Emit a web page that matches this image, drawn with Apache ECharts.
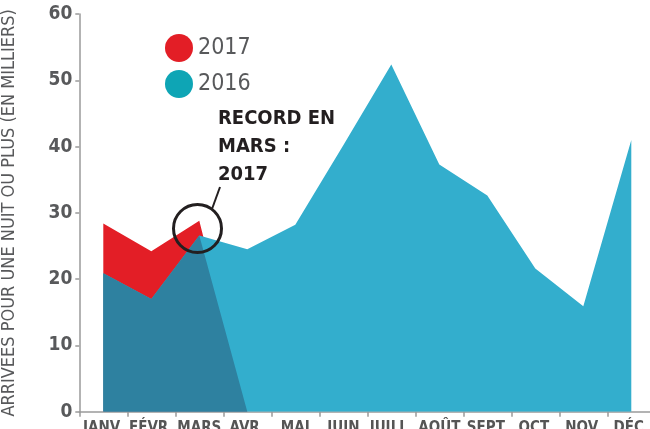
<!DOCTYPE html>
<html>
<head>
<meta charset="utf-8">
<script src="https://cdn.jsdelivr.net/npm/echarts@6/dist/echarts.min.js"></script>
<style>
  html, body { margin: 0; padding: 0; background: #fff; }
  #chart { width: 650px; height: 429px; }
</style>
</head>
<body>
<div id="chart"></div>
<script>
// mois
const months = ['JANV.', 'FÉVR.', 'MARS', 'AVR.', 'MAI', 'JUIN', 'JUILL.', 'AOÛT', 'SEPT.', 'OCT.', 'NOV.', 'DÉC.']
// arrivées (milliers)
const arrivals2016 = [20.9, 17.0, 26.6, 24.5, 28.2, 40.2, 52.4, 37.3, 32.6, 21.6, 15.9, 41.0]
const arrivals2017 = [28.4, 24.2, 28.8, 0]
// partie commune aux deux années
const overlap = [20.9, 17.0, 26.6, 0]
const yTicks = [0, 10, 20, 30, 40, 50, 60]

const FONT = "'Liberation Sans Narrow', 'DejaVu Sans Condensed', sans-serif"
const RED = '#e31e26'
const CYAN = '#33aecd'
const DARK = '#2e81a0'

const chart = echarts.init(document.getElementById('chart'))

chart.setOption({
  animation: false,
  textStyle: { fontFamily: FONT },
  grid: { left: 79.3, right: -5.3, top: 14, bottom: 17.3, containLabel: false, outerBoundsMode: 'none' },
  legend: {
    orient: 'vertical',
    left: 160,
    top: 29,
    icon: 'circle',
    itemWidth: 28,
    itemHeight: 28,
    itemGap: 8,
    selectedMode: false,
    textStyle: { fontSize: 23, color: '#58595b', fontFamily: FONT, padding: [2, 0, 0, 0] },
    data: [
      { name: '2017', itemStyle: { color: RED } },
      { name: '2016', itemStyle: { color: '#0ea5b5' } }
    ]
  },
  xAxis: {
    type: 'category',
    data: months,
    boundaryGap: true,
    axisLine: { lineStyle: { color: '#9a9a9a', width: 1.5 } },
    axisTick: { show: true, length: 5, lineStyle: { color: '#9a9a9a', width: 1.5 } },
    axisLabel: { color: '#555', fontSize: 15, fontWeight: 'bold', margin: 9, interval: 0, hideOverlap: false, fontFamily: FONT }
  },
  yAxis: {
    type: 'value',
    min: yTicks[0],
    max: yTicks[yTicks.length - 1],
    interval: 10,
    name: 'ARRIVÉES POUR UNE NUIT OU PLUS (EN MILLIERS)',
    nameLocation: 'middle',
    nameRotate: 90,
    nameGap: 61,
    nameTextStyle: { fontSize: 18, color: '#58595b', fontFamily: FONT, padding: [0, 0, 0, 0] },
    axisLine: { show: true, lineStyle: { color: '#9a9a9a', width: 1.5 } },
    axisTick: { show: true, length: 4, lineStyle: { color: '#9a9a9a', width: 1.5 } },
    axisLabel: { color: '#58595b', fontSize: 19, fontWeight: 'bold', margin: 7, fontFamily: FONT },
    splitLine: { show: false }
  },
  series: [
    {
      name: '2017',
      type: 'line',
      data: arrivals2017,
      symbol: 'none',
      lineStyle: { width: 0 },
      itemStyle: { color: RED },
      areaStyle: { color: RED, opacity: 1 },
      z: 1
    },
    {
      name: '2016',
      type: 'line',
      data: arrivals2016,
      symbol: 'none',
      lineStyle: { width: 0 },
      itemStyle: { color: CYAN },
      areaStyle: { color: CYAN, opacity: 1 },
      z: 2
    },
    {
      name: 'commun',
      type: 'line',
      data: overlap,
      symbol: 'none',
      lineStyle: { width: 0 },
      itemStyle: { color: DARK },
      areaStyle: { color: DARK, opacity: 1 },
      z: 3
    }
  ],
  graphic: [
    {
      type: 'text',
      left: 218,
      top: 105,
      style: {
        text: 'RECORD EN\nMARS :\n2017',
        font: 'bold 20px ' + FONT,
        lineHeight: 28,
        fill: '#231f20'
      },
      z: 10
    },
    {
      type: 'circle',
      shape: { cx: 197.5, cy: 228.5, r: 24 },
      style: { fill: 'none', stroke: '#231f20', lineWidth: 3 },
      z: 10
    },
    {
      type: 'line',
      shape: { x1: 212, y1: 209, x2: 220, y2: 187 },
      style: { stroke: '#231f20', lineWidth: 2 },
      z: 10
    }
  ]
})
</script>
</body>
</html>
